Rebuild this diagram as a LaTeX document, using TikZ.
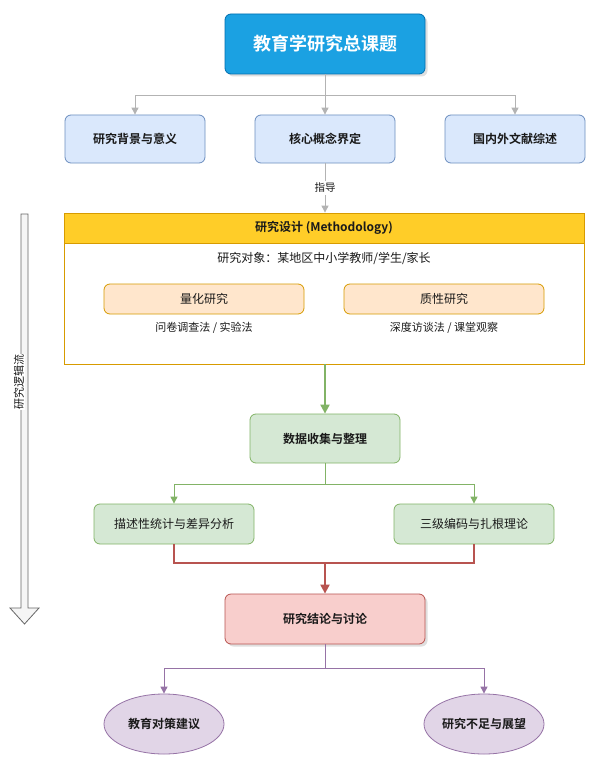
\documentclass[tikz,border=0pt]{standalone}
\usepackage{fontspec}
\setmainfont{Noto Sans CJK SC}[BoldFont={Noto Sans CJK SC Bold}]
\usetikzlibrary{arrows.meta,shapes.geometric,shadows}
\definecolor{titlefill}{HTML}{1BA1E2}
\definecolor{titlestroke}{HTML}{006EAF}
\definecolor{bluefill}{HTML}{DAE8FC}
\definecolor{bluestroke}{HTML}{6C8EBF}
\definecolor{yelfill}{HTML}{FFCD28}
\definecolor{orstroke}{HTML}{D79B00}
\definecolor{orfill}{HTML}{FFE6CC}
\definecolor{grfill}{HTML}{D5E8D4}
\definecolor{grstroke}{HTML}{82B366}
\definecolor{rdfill}{HTML}{F8CECC}
\definecolor{rdstroke}{HTML}{B85450}
\definecolor{pufill}{HTML}{E1D5E7}
\definecolor{pustroke}{HTML}{9673A6}
\definecolor{greyline}{HTML}{B3B3B3}
\definecolor{txt}{HTML}{1A1A1A}
\tikzset{
  box/.style={draw, rounded corners=6pt, line width=0.8pt, align=center, text=txt, inner sep=0pt},
  shad/.style={drop shadow={opacity=0.25, shadow xshift=2.5pt, shadow yshift=-2.5pt}},
  greyarr/.style={draw=greyline, line width=0.9pt, -{Triangle[open,length=7pt,width=7pt,fill=greyline]}},
  garr/.style={draw=grstroke, line width=1pt, -{Triangle[length=7pt,width=7pt]}},
  garrthick/.style={draw=grstroke, line width=2pt, -{Triangle[length=9pt,width=9pt]}},
  rline/.style={draw=rdstroke, line width=2pt},
  rarr/.style={draw=rdstroke, line width=2pt, -{Triangle[length=9pt,width=9pt]}},
  parr/.style={draw=pustroke, line width=1pt, -{Triangle[length=7pt,width=7pt]}},
  flowarrow/.style={draw=black!60, fill=black!4, line width=0.8pt, line join=miter},
  bf12/.style={font=\bfseries\fontsize{12}{14}\selectfont},
  rg12/.style={font=\fontsize{12}{14}\selectfont},
}
\begin{document}
\begin{tikzpicture}[x=1pt,y=-1pt]
\useasboundingbox (0,0) rectangle (595,765);
\fill[white] (0,0) rectangle (595,765);

% left flow arrow
\draw[flowarrow] (21,214) -- (28,214) -- (28,608) -- (39,608) -- (24.5,624) -- (10,608) -- (21,608) -- cycle;
\node[rotate=90, font=\fontsize{11}{12}\selectfont, text=txt, fill=white, inner sep=0.5pt] (flowlbl) at (19,382) {研究逻辑流};

% title
\node[box, shad, fill=titlefill, draw=titlestroke, minimum width=200pt, minimum height=60pt,
  text=white, font=\bfseries\fontsize{18}{20}\selectfont] (title) at (325,44) {教育学研究总课题};

% three boxes
\foreach \n/\x/\t in {b1/135/研究背景与意义, b2/325/核心概念界定, b3/515/国内外文献综述}{
  \node[box, bf12, fill=bluefill, draw=bluestroke, minimum width=140pt, minimum height=48pt] (\n) at (\x,139) {\t};
}
\coordinate (t1) at (325,95);
\draw[greyarr] (title.south) -- (b2.north);
\draw[greyarr] (title.south) -- (t1) -| (b1.north);
\draw[greyarr] (title.south) -- (t1) -| (b3.north);

% design container
\node[draw=orstroke, fill=white, line width=0.8pt, minimum width=520pt, minimum height=151pt, inner sep=0pt] (design) at (324,288.5) {};
\node[draw=orstroke, fill=yelfill, line width=0.8pt, minimum width=520pt, minimum height=30pt, inner sep=0pt,
  bf12, text=txt] (dhead) at (324,228) {研究设计 (Methodology)};
\draw[greyarr] (b2.south) -- node[fill=white, font=\fontsize{10.5}{12}\selectfont, text=txt, inner sep=2pt] (guide) {指导} (design.north -| b2.south);
\node[rg12, text=txt] (obj) at (324,258) {研究对象：某地区中小学教师/学生/家长};
\node[box, rg12, fill=orfill, draw=orstroke, minimum width=200pt, minimum height=30pt] (quant) at (204,299) {量化研究};
\node[box, rg12, fill=orfill, draw=orstroke, minimum width=200pt, minimum height=30pt] (qual) at (444,299) {质性研究};
\node[font=\fontsize{11}{13}\selectfont, text=txt] (quantm) at (204,328) {问卷调查法 / 实验法};
\node[font=\fontsize{11}{13}\selectfont, text=txt] (qualm) at (444,328) {深度访谈法 / 课堂观察};

% data collection
\node[box, bf12, fill=grfill, draw=grstroke, minimum width=150pt, minimum height=49pt] (data) at (325,438.5) {数据收集与整理};
\draw[garrthick] (design.south -| data.north) -- (data.north);

\node[box, rg12, fill=grfill, draw=grstroke, minimum width=160pt, minimum height=40pt] (desc) at (174,524) {描述性统计与差异分析};
\node[box, rg12, fill=grfill, draw=grstroke, minimum width=160pt, minimum height=40pt] (code) at (474,524) {三级编码与扎根理论};
\coordinate (t2) at (325,484);
\draw[garr] (data.south) -- (t2) -| (desc.north);
\draw[garr] (data.south) -- (t2) -| (code.north);

% conclusion
\node[box, bf12, shad, fill=rdfill, draw=rdstroke, minimum width=200pt, minimum height=50pt] (concl) at (325,619) {研究结论与讨论};
\coordinate (t3) at (325,563);
\draw[rline] (desc.south) |- (t3);
\draw[rline] (code.south) |- (t3);
\draw[rarr] (t3) -- (concl.north);

% ellipses
\node[ellipse, bf12, draw=pustroke, fill=pufill, line width=0.8pt, minimum width=120pt, minimum height=60pt,
  inner sep=0pt, text=txt] (policy) at (164,724) {教育对策建议};
\node[ellipse, bf12, draw=pustroke, fill=pufill, line width=0.8pt, minimum width=120pt, minimum height=60pt,
  inner sep=0pt, text=txt] (limit) at (484,724) {研究不足与展望};
\coordinate (t4) at (325,668);
\draw[parr] (concl.south) -- (t4) -| (policy.north);
\draw[parr] (concl.south) -- (t4) -| (limit.north);
\end{tikzpicture}
\end{document}
